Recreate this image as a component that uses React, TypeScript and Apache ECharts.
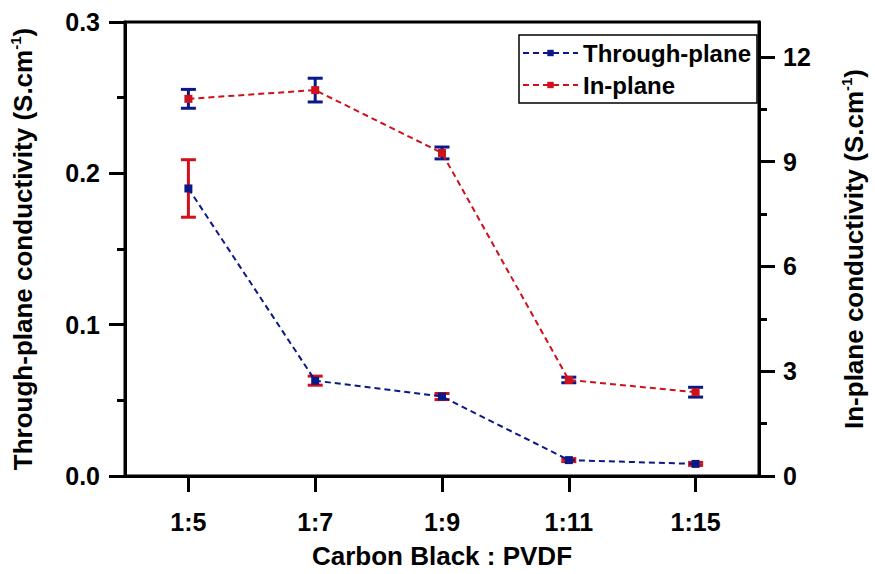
import React, { useEffect, useRef } from "react";
import * as echarts from "echarts";

const categories = ["1:5", "1:7", "1:9", "1:11", "1:15"];
const throughPlane = [0.19, 0.063, 0.0525, 0.0105, 0.008];
const throughPlaneErr = [0.019, 0.003, 0.002, 0.001, 0.001];
const inPlane = [10.8, 11.05, 9.25, 2.75, 2.4];
const inPlaneErr = [0.27, 0.34, 0.17, 0.08, 0.14];
const leftTicks = [0, 0.1, 0.2, 0.3];
const rightTicks = [0, 3, 6, 9, 12];
const rightMinorTicks = [1.5, 4.5, 7.5, 10.5];

const BLUE = "#0a1888";
const RED = "#d0101a";
const FONT = "Liberation Sans, Arial, sans-serif";

function errorSeries(vals: number[], errs: number[], color: string, yAxisIndex: number) {
  return {
    type: "custom",
    yAxisIndex,
    z: 1,
    silent: true,
    encode: { x: 0, y: 1 },
    data: vals.map((v, i) => [i, v, errs[i]]),
    renderItem: (params: any, api: any) => {
      const x = api.value(0);
      const y = api.value(1);
      const e = api.value(2);
      const hi = api.coord([x, y + e]);
      const lo = api.coord([x, y - e]);
      const w = 7.5;
      const st = { stroke: color, lineWidth: 3 };
      return {
        type: "group",
        children: [
          { type: "line", shape: { x1: hi[0], y1: hi[1], x2: lo[0], y2: lo[1] }, style: st },
          { type: "line", shape: { x1: hi[0] - w, y1: hi[1], x2: hi[0] + w, y2: hi[1] }, style: st },
          { type: "line", shape: { x1: lo[0] - w, y1: lo[1], x2: lo[0] + w, y2: lo[1] }, style: st },
        ],
      };
    },
  };
}

export default function App() {
  const ref = useRef<HTMLDivElement>(null);
  useEffect(() => {
    document.body.style.margin = "0";
    if (!ref.current) return;
    const chart = echarts.init(ref.current, null, { renderer: "svg" });
    const labelStyle = { color: "#000", fontFamily: FONT, fontWeight: "bold", fontSize: 25 };
    const nameRich = {
      a: { fontFamily: FONT, fontWeight: "bold", fontSize: 26, color: "#000", lineHeight: 30 },
      s: { fontFamily: FONT, fontWeight: "bold", fontSize: 15, color: "#000", verticalAlign: "top", lineHeight: 30 },
    };
    chart.setOption({
      animation: false,
      backgroundColor: "#fff",
      grid: {
        left: 124,
        right: 104,
        top: 22,
        bottom: 97,
        show: true,
        borderColor: "#000",
        borderWidth: 3,
      },
      legend: {
        orient: "vertical",
        left: 519,
        top: 35,
        data: ["Through-plane", "In-plane"],
        borderColor: "#000",
        borderWidth: 1.5,
        padding: [6, 6, 6, 3],
        itemWidth: 55,
        itemHeight: 8,
        itemGap: 8,
        textStyle: { ...labelStyle, fontSize: 24 },
      },
      xAxis: {
        type: "category",
        data: categories,
        boundaryGap: true,
        name: "Carbon Black : PVDF",
        nameLocation: "middle",
        nameGap: 67,
        nameTextStyle: { ...labelStyle, fontSize: 26 },
        axisLine: { show: true, lineStyle: { color: "#000", width: 3 } },
        axisTick: { show: true, alignWithLabel: true, length: 16, lineStyle: { color: "#000", width: 3 } },
        axisLabel: { ...labelStyle, margin: 33 },
        splitLine: { show: false },
      },
      yAxis: [
        {
          type: "value",
          position: "left",
          min: 0,
          max: 0.3,
          interval: 0.1,
          name: "{a|Through-plane conductivity (S.cm}{s|-1}{a|)}",
          nameLocation: "middle",
          nameGap: 87,
          nameRotate: 90,
          nameTextStyle: { rich: nameRich },
          axisLine: { show: true, lineStyle: { color: "#000", width: 3 } },
          axisTick: { show: true, length: 16, lineStyle: { color: "#000", width: 3 } },
          minorTick: { show: true, splitNumber: 2, length: 8, lineStyle: { color: "#000", width: 3 } },
          axisLabel: { ...labelStyle, margin: 25, formatter: (v: number) => v.toFixed(1), customValues: leftTicks },
          splitLine: { show: false },
        },
        {
          type: "value",
          position: "right",
          min: 0,
          max: 13,
          name: "{a|In-plane conductivity (S.cm}{s|-1}{a|)}",
          nameLocation: "middle",
          nameGap: 80,
          nameRotate: 90,
          nameTextStyle: { rich: nameRich },
          axisLine: { show: true, lineStyle: { color: "#000", width: 3 } },
          axisTick: { show: true, length: 16, customValues: rightTicks, lineStyle: { color: "#000", width: 3 } },
          axisLabel: { ...labelStyle, margin: 24, customValues: rightTicks },
          splitLine: { show: false },
        },
        {
          type: "value",
          position: "right",
          min: 0,
          max: 13,
          axisLine: { show: false },
          axisTick: { show: true, length: 8, customValues: rightMinorTicks, lineStyle: { color: "#000", width: 3 } },
          axisLabel: { show: false },
          splitLine: { show: false },
        },
      ],
      series: [
        errorSeries(throughPlane, throughPlaneErr, RED, 0),
        errorSeries(inPlane, inPlaneErr, BLUE, 1),
        {
          name: "Through-plane",
          type: "line",
          yAxisIndex: 0,
          data: throughPlane,
          z: 3,
          symbol: "rect",
          symbolSize: 8,
          itemStyle: { color: BLUE },
          lineStyle: { color: BLUE, width: 2, type: [6, 4] },
        },
        {
          name: "In-plane",
          type: "line",
          yAxisIndex: 1,
          data: inPlane,
          z: 3,
          symbol: "rect",
          symbolSize: 8,
          itemStyle: { color: RED },
          lineStyle: { color: RED, width: 2, type: [6, 4] },
        },
      ],
    });
    return () => chart.dispose();
  }, []);
  return <div ref={ref} style={{ width: 875, height: 574 }} />;
}
